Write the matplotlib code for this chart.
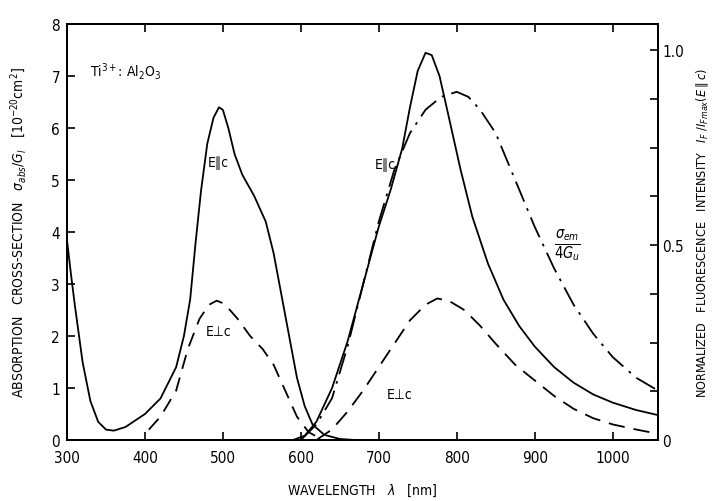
import numpy as np
import matplotlib
matplotlib.use('Agg')
import matplotlib.pyplot as plt

plt.rcParams['font.family'] = ['DejaVu Sans']
plt.rcParams['font.stretch'] = 'condensed'
plt.rcParams['mathtext.fontset'] = 'dejavusans'

# Absorption cross-section, E || c (solid), 1e-20 cm^2
abs_par_wl = [300, 305, 310, 320, 330, 340, 350, 360, 375, 390, 400, 420, 440, 450, 458, 465,
              472, 480, 488, 495, 500, 507, 515, 525, 540, 555, 565, 575, 585, 595, 605,
              615, 630, 650, 670]
abs_par = [3.85, 3.2, 2.6, 1.5, 0.75, 0.35, 0.2, 0.18, 0.25, 0.4, 0.5, 0.8, 1.4, 2.0, 2.7, 3.8,
           4.8, 5.7, 6.2, 6.4, 6.35, 6.0, 5.5, 5.1, 4.7, 4.2, 3.6, 2.8, 2.0, 1.2, 0.65,
           0.3, 0.1, 0.02, 0.0]

# Absorption cross-section, E perp c (dashed)
abs_perp_wl = [405, 420, 440, 455, 470, 482, 492, 502, 519, 535, 551, 565, 580, 595, 610, 625]
abs_perp = [0.2, 0.45, 0.95, 1.75, 2.33, 2.6, 2.68, 2.62, 2.33, 2.0, 1.75, 1.45, 0.95, 0.45,
            0.15, 0.03]

# Normalized fluorescence, E || c (solid)
fl_par_wl = [590, 605, 620, 640, 660, 680, 700, 715, 730, 740, 750, 760, 768, 778, 790, 805,
             820, 840, 860, 880, 900, 925, 950, 975, 1000, 1030, 1058]
fl_par = [0, 0.011, 0.047, 0.133, 0.253, 0.40, 0.547, 0.64, 0.747, 0.853, 0.947, 0.993,
          0.987, 0.933, 0.827, 0.693, 0.573, 0.453, 0.36, 0.293, 0.24, 0.187, 0.147, 0.117,
          0.096, 0.077, 0.064]

# Normalized fluorescence, E perp c (dashed)
fl_perp_wl = [620, 640, 660, 680, 700, 720, 740, 760, 775, 790, 810, 830, 850, 875, 900, 925,
              950, 975, 1000, 1030, 1058]
fl_perp = [0, 0.027, 0.073, 0.127, 0.187, 0.247, 0.307, 0.347, 0.363, 0.357, 0.333, 0.293,
           0.247, 0.193, 0.153, 0.113, 0.08, 0.056, 0.04, 0.027, 0.016]

# Emission cross-section sigma_em / 4 G_u (dash-dot)
em_wl = [600, 620, 640, 660, 680, 700, 720, 740, 760, 780, 800, 815, 830, 850, 875, 900, 925,
         950, 975, 1000, 1030, 1058]
em = [0, 0.04, 0.107, 0.24, 0.40, 0.56, 0.693, 0.787, 0.847, 0.88, 0.893, 0.88, 0.847, 0.787,
      0.667, 0.547, 0.44, 0.347, 0.273, 0.213, 0.16, 0.127]

x_ticks = [300, 400, 500, 600, 700, 800, 900, 1000]
left_ticks = [0, 1, 2, 3, 4, 5, 6, 7, 8]
right_major = [0, 0.5, 1.0]
right_minor = [0.125, 0.25, 0.375, 0.625, 0.75, 0.875]

fig = plt.figure(figsize=(7.15, 5.02), dpi=100)
ax = fig.add_axes([0.0937, 0.1215, 0.8263, 0.8285])
ax2 = ax.twinx()

lw = 1.3
ax.plot(abs_par_wl, abs_par, 'k-', lw=lw)
ax.plot(abs_perp_wl, abs_perp, color='k', lw=lw, dashes=(8, 5))
ax2.plot(fl_par_wl, fl_par, 'k-', lw=lw)
ax2.plot(fl_perp_wl, fl_perp, color='k', lw=lw, dashes=(9, 5))
ax2.plot(em_wl, em, color='k', lw=lw, dashes=(12, 4, 1.5, 4))

ax.set_xlim(300, 1058)
ax.set_ylim(0, 8)
ax2.set_ylim(0, 8 / 7.5)

ax.set_xticks(x_ticks)
ax.set_yticks(left_ticks)
ax2.set_yticks(right_major)
ax2.set_yticklabels(['0', '0.5', '1.0'])
ax2.set_yticks(right_minor, minor=True)

ax.tick_params(axis='both', direction='in', length=6, width=1.2, labelsize=11, pad=3,
               top=True)
ax.tick_params(axis='x', pad=7)
ax.tick_params(axis='y', pad=5)
ax2.tick_params(axis='y', which='both', direction='in', length=6, width=1.2, labelsize=11,
                pad=3)
for a in (ax, ax2):
    for s in a.spines.values():
        s.set_linewidth(1.4)

ax.set_xlabel(r'WAVELENGTH   $\lambda$   [nm]', fontsize=10, labelpad=12)
ax.set_ylabel(r'ABSORPTION   CROSS-SECTION   $\sigma_{abs}/G_l$   [10$^{-20}$cm$^2$]',
              fontsize=10, labelpad=16)
ax2.set_ylabel(r'NORMALIZED   FLUORESCENCE   INTENSITY   $I_F\ /I_{Fmax}(E\parallel c)$',
               fontsize=9, labelpad=8)

ax.text(329, 7.1, r'Ti$^{3+}$: Al$_2$O$_3$', fontsize=10, va='center')
ax.text(494, 5.35, 'E∥c', fontsize=10, ha='center', va='center')
ax.text(494, 2.1, 'E⊥c', fontsize=10, ha='center', va='center')
ax.text(708, 5.3, 'E∥c', fontsize=10, ha='center', va='center')
ax.text(727, 0.88, 'E⊥c', fontsize=10, ha='center', va='center')
ax.text(942, 3.75, r'$\frac{\sigma_{em}}{4G_u}$', fontsize=15, ha='center', va='center')

fig.savefig('out.png', dpi=100)
